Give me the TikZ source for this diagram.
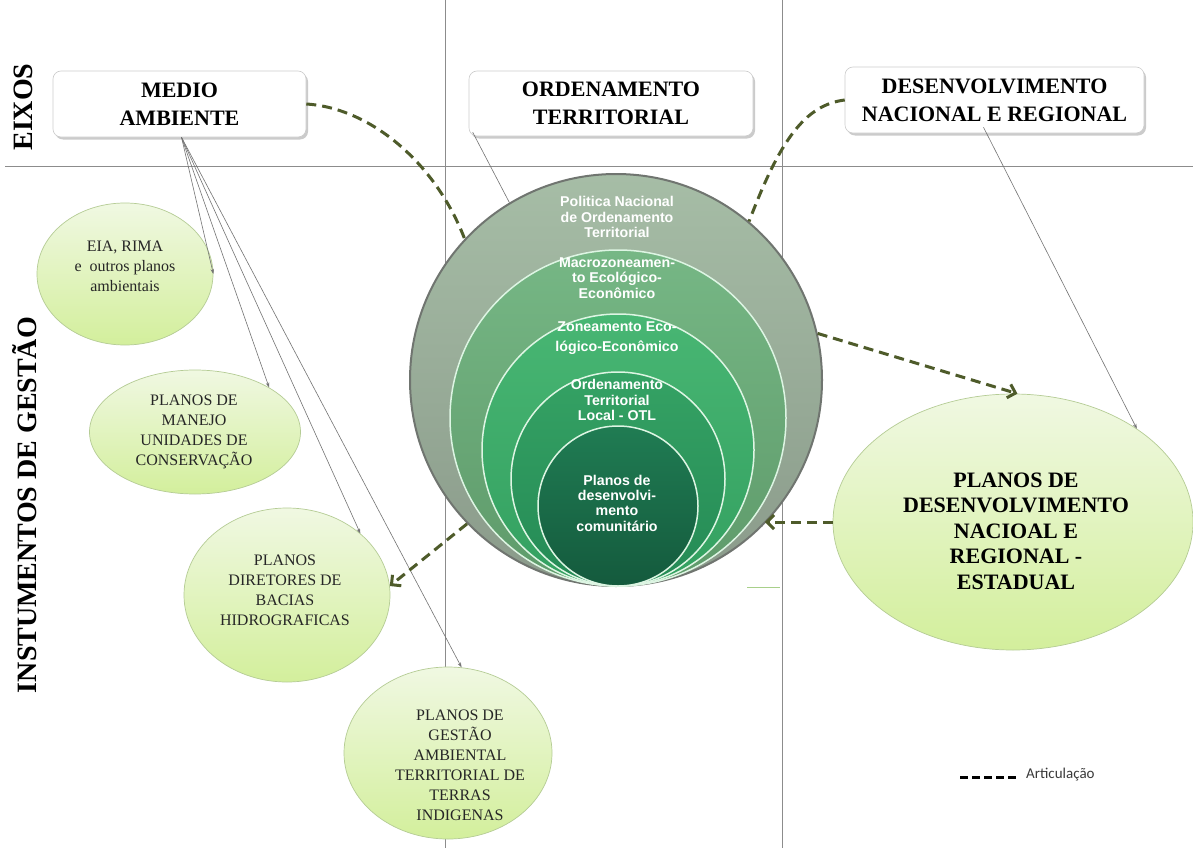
\documentclass[tikz,border=0pt]{standalone}
\usepackage{fontspec}
\setmainfont{Liberation Serif}
\setsansfont{Liberation Sans}
\newfontfamily\calfont{Carlito}
\usetikzlibrary{shapes.geometric,arrows.meta,shadows,calc}
\definecolor{dashcol}{HTML}{4E5B2A}
\definecolor{elltop}{HTML}{F0F8E2}
\definecolor{ellbot}{HTML}{D3EF9C}
\definecolor{ellborder}{HTML}{B5CC95}
\definecolor{ringline}{HTML}{DDF5E3}
\definecolor{ringedge}{HTML}{707570}
\definecolor{cAtop}{HTML}{A6BDA6}
\definecolor{cAbot}{HTML}{8A9A8A}
\definecolor{cBtop}{HTML}{76B785}
\definecolor{cBbot}{HTML}{5E9A6A}
\definecolor{cCtop}{HTML}{48B673}
\definecolor{cCbot}{HTML}{33A060}
\definecolor{cDtop}{HTML}{35A264}
\definecolor{cDbot}{HTML}{248A55}
\definecolor{cEtop}{HTML}{207C53}
\definecolor{cEbot}{HTML}{145A3D}
\definecolor{legtext}{HTML}{3A3A3A}
\definecolor{stray}{HTML}{A8D08A}
\begin{document}
\begin{tikzpicture}[x=1pt,y=-1pt,
  gridline/.style={draw=black!45, line width=0.8pt},
  axisbox/.style={draw=black!20, line width=0.6pt, fill=white, rounded corners=8pt,
    drop shadow={shadow xshift=2pt, shadow yshift=-2.5pt, fill=black!40},
    inner sep=0pt, align=center, font=\fontsize{22}{28}\selectfont\bfseries},
  plan/.style={ellipse, draw=ellborder, line width=0.7pt, top color=elltop, bottom color=ellbot, inner sep=0pt},
  plantext/.style={align=center, font=\fontsize{16}{20}\selectfont, text=black!85},
  bigtext/.style={align=center, font=\fontsize{22}{25.5}\selectfont\bfseries, text=black},
  ring/.style={circle, inner sep=0pt, draw=ringline, line width=1.5pt},
  ringtext/.style={align=center, text=white, font=\sffamily\bfseries\fontsize{14.2}{15.3}\selectfont},
  artic/.style={draw=dashcol, line width=3pt, dash pattern=on 10pt off 6pt},
  articarrow/.style={artic, -{Straight Barb[length=7pt,width=14pt]}},
  feed/.style={draw=black!55, line width=0.6pt, -{Stealth[length=5pt,width=3.5pt]}},
  feedplain/.style={draw=black!55, line width=0.6pt},
  sidelabel/.style={rotate=90, font=\fontsize{28}{30}\selectfont\bfseries}
]
\fill[white] (0,0) rectangle (1193,848);
\useasboundingbox (0,0) rectangle (1193,848);

% grid
\coordinate (h1) at (5,166);
\coordinate (h2) at (1193,166);
\coordinate (v1a) at (445,0);
\coordinate (v1b) at (445,848);
\coordinate (v2a) at (782,0);
\coordinate (v2b) at (782,848);
\draw[gridline] (h1) -- (h2);
\draw[gridline] (v1a) -- (v1b);
\draw[gridline] (v2a) -- (v2b);
\coordinate (s1) at (747,587);
\coordinate (s2) at (780,587);
\draw[stray, line width=1pt] (s1) -- (s2);

% side labels
\node[sidelabel] (eixos) at (23,107) {EIXOS};
\node[sidelabel] (instr) at (25,505) {INSTUMENTOS DE GESTÃO};

% axis boxes
\node[axisbox, minimum width=253pt, minimum height=66pt] (med) at (179.5,104) {MEDIO\\AMBIENTE};
\node[axisbox, minimum width=284pt, minimum height=65pt] (ord) at (611,103.5) {ORDENAMENTO\\TERRITORIAL};
\node[axisbox, minimum width=299pt, minimum height=66pt] (des) at (994.5,100) {DESENVOLVIMENTO\\NACIONAL E REGIONAL};

% instrument ellipses
\node[plan, minimum width=176pt, minimum height=142pt] (eia) at (125,274) {};
\node[plantext] (eiat) at (125,266) {EIA, RIMA\\e \ outros planos\\ambientais};
\node[plan, minimum width=211pt, minimum height=124pt] (man) at (195,432) {};
\node[plantext] (mant) at (194,432) {PLANOS DE\\MANEJO\\UNIDADES DE\\CONSERVAÇÃO};
\node[plan, minimum width=206pt, minimum height=174pt] (dir) at (287,595) {};
\node[plantext] (dirt) at (285,590) {PLANOS\\DIRETORES DE\\BACIAS\\HIDROGRAFICAS};
\node[plan, minimum width=208pt, minimum height=172pt] (ges) at (448,753) {};
\node[plantext] (gest) at (460,765) {PLANOS DE\\GESTÃO\\AMBIENTAL\\TERRITORIAL DE\\TERRAS\\INDIGENAS};
\node[plan, minimum width=360pt, minimum height=256pt] (er) at (1013,522) {};
\node[bigtext] (ert) at (1016,531) {PLANOS DE\\DESENVOLVIMENTO\\NACIOAL E\\REGIONAL -\\ESTADUAL};

% nested circles
\node[ring, minimum size=412pt, draw=ringedge, line width=2pt, top color=cAtop, bottom color=cAbot] (c1) at (616,380) {};
\node[ring, minimum size=336pt, top color=cBtop, bottom color=cBbot] (c2) at (618,418) {};
\node[ring, minimum size=272pt, top color=cCtop, bottom color=cCbot] (c3) at (618,450) {};
\node[ring, minimum size=214pt, top color=cDtop, bottom color=cDbot] (c4) at (618,479) {};
\node[ring, minimum size=160pt, top color=cEtop, bottom color=cEbot] (c5) at (618,506) {};
\node[ringtext] (t1) at (617,217) {Politica Nacional\\de Ordenamento\\Territorial};
\node[ringtext] (t2) at (617,278) {Macrozoneamen-\\to Ecológico-\\Econômico};
\node[ringtext, font=\sffamily\bfseries\fontsize{14.2}{20}\selectfont] (t3) at (617,338) {Zoneamento Eco-\\lógico-Econômico};
\node[ringtext] (t4) at (617,400) {Ordenamento\\Territorial\\Local - OTL};
\node[ringtext] (t5) at (617,503) {Planos de\\desenvolvi-\\mento\\comunitário};

% thin connectors
\draw[feed] ([xshift=2pt]med.south) -- (eia.east);
\draw[feed] ([xshift=2pt]med.south) -- (man.31);
\draw[feed] ([xshift=2pt]med.south) -- (dir.40);
\draw[feed] ([xshift=2pt]med.south) -- (ges.81);
\draw[feedplain] ([xshift=4pt,yshift=4pt]ord.south west) -- (c1.121);
\draw[feed] ([xshift=-11pt,yshift=6pt]des.south) -- (er.37);

% articulation connectors
\draw[artic] (med.east) .. controls (370,108) and (435,162) .. (c1.137);
\draw[artic] (des.west) .. controls (805,105) and (780,140) .. (c1.50);
\draw[articarrow] (c1.13) -- (er.88);
\draw[articarrow] (er.west) -- (er.west -| c1.-44);
\draw[articarrow] (c1.224) -- (dir.5);

% legend
\coordinate (lg1) at (960,777);
\coordinate (lg2) at (1018,777);
\draw[draw=black, line width=3pt, dash pattern=on 8pt off 4pt] (lg1) -- (lg2);
\node[anchor=west, inner sep=0pt, text=legtext, font=\calfont\fontsize{15}{18}\selectfont] (lgt) at (1026,775) {Articulação};
\end{tikzpicture}
\end{document}
